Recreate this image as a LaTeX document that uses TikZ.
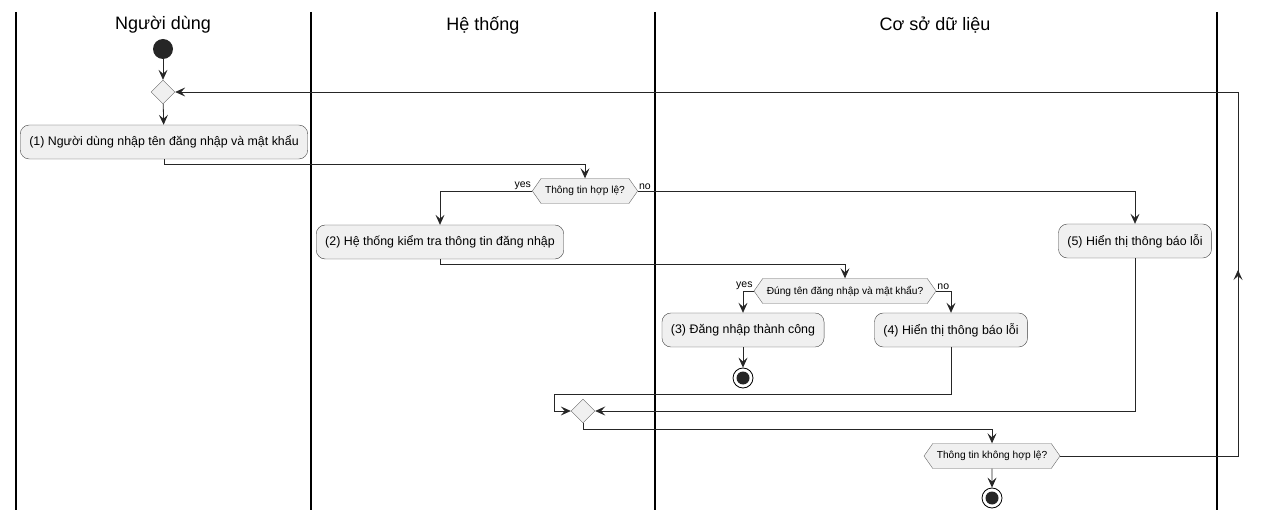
\documentclass[tikz,border=0pt]{standalone}
\usepackage{fontspec}
\setmainfont{Liberation Sans}
\usetikzlibrary{arrows.meta,shapes.geometric,shapes.symbols}

\tikzset{
  lane/.style={line width=1.3pt},
  title/.style={font=\fontsize{18}{21}\selectfont},
  act/.style={draw=black!75, fill=black!6, rounded corners=9pt, minimum height=34pt,
    inner xsep=9pt, font=\fontsize{12.4}{14}\selectfont},
  cond/.style={draw=black!60, fill=black!6, signal, signal to=west and east,
    signal pointer angle=110, minimum height=25pt, inner xsep=4pt, inner ysep=0pt,
    font=\fontsize{10.2}{12}\selectfont},
  merge/.style={draw=black!60, fill=black!6, diamond, minimum size=24pt, inner sep=0pt},
  startnode/.style={circle, fill=black!85, minimum size=20pt, inner sep=0pt},
  endnode/.style={circle, draw=black, line width=0.8pt, fill=white, minimum size=20pt, inner sep=0pt,
    path picture={\fill[black!85] (path picture bounding box.center) circle[radius=6.5pt];}},
  flow/.style={line width=0.8pt, black!85, -{Stealth[length=10pt,width=9pt,inset=4pt]}},
  lbl/.style={font=\fontsize{10.5}{12}\selectfont, inner sep=1pt}
}

\begin{document}
\begin{tikzpicture}[x=1pt, y=-1pt]
  \useasboundingbox (0,0) rectangle (1264,521);

  % swimlanes
  \foreach \x in {16, 311, 655, 1217}
    \draw[lane] (\x,12) -- (\x,510);
  \node[title] (laneUser) at (163,25) {Người dùng};
  \node[title] (laneSys) at (483,25) {Hệ thống};
  \node[title] (laneDb) at (935,25) {Cơ sở dữ liệu};

  % nodes
  \node[startnode] (start) at (163,49) {};
  \node[merge] (mergeA) at (163,92) {};
  \node[act] (act1) at (164,142) {(1) Người dùng nhập tên đăng nhập và mật khẩu};
  \node[cond] (chkInput) at (585,191) {Thông tin hợp lệ?};
  \node[act] (act2) at (440,242) {(2) Hệ thống kiểm tra thông tin đăng nhập};
  \node[act] (act5) at (1135,241) {(5) Hiển thị thông báo lỗi};
  \node[cond] (chkLogin) at (845,291) {Đúng tên đăng nhập và mật khẩu?};
  \node[act] (act3) at (743,330) {(3) Đăng nhập thành công};
  \node[act] (act4) at (951,330) {(4) Hiển thị thông báo lỗi};
  \node[endnode] (endA) at (743,378) {};
  \node[merge] (mergeB) at (583,411) {};
  \node[cond] (chkAgain) at (992,456) {Thông tin không hợp lệ?};
  \node[endnode] (endB) at (992,498) {};

  % flows
  \draw[flow] (start) -- (mergeA);
  \draw[flow] (mergeA) -- (act1);
  \draw[flow] (act1.south) -- ++(0,5) -| (chkInput.north);
  \draw[flow] (chkInput.west) -| (act2.north);
  \node[lbl, anchor=south east] (yesA) at (chkInput.west) {yes};
  \draw[flow] (chkInput.east) -| (act5.north);
  \node[lbl, anchor=south west] (noA) at (chkInput.east) {no};
  \draw[flow] (act2.south) -- ++(0,5) -| (chkLogin.north);
  \draw[flow] (chkLogin.west) -| (act3.north);
  \node[lbl, anchor=south east] (yesB) at (chkLogin.west) {yes};
  \draw[flow] (chkLogin.east) -| (act4.north);
  \node[lbl, anchor=south west] (noB) at (chkLogin.east) {no};
  \draw[flow] (act3) -- (endA);
  \draw[flow] (act4.south) |- (554,394) -- (554,411) -- (mergeB.west);
  \draw[flow] (act5.south) |- (mergeB.east);
  \draw[flow] (mergeB.south) -- ++(0,6) -| (chkAgain.north);
  \draw[flow] (chkAgain) -- (endB);
  \draw[flow] (chkAgain.east) -- (1238,456) -- (1238,270);
  \draw[flow] (1238,272) -- (1238,92) -- (mergeA.east);
\end{tikzpicture}
\end{document}
